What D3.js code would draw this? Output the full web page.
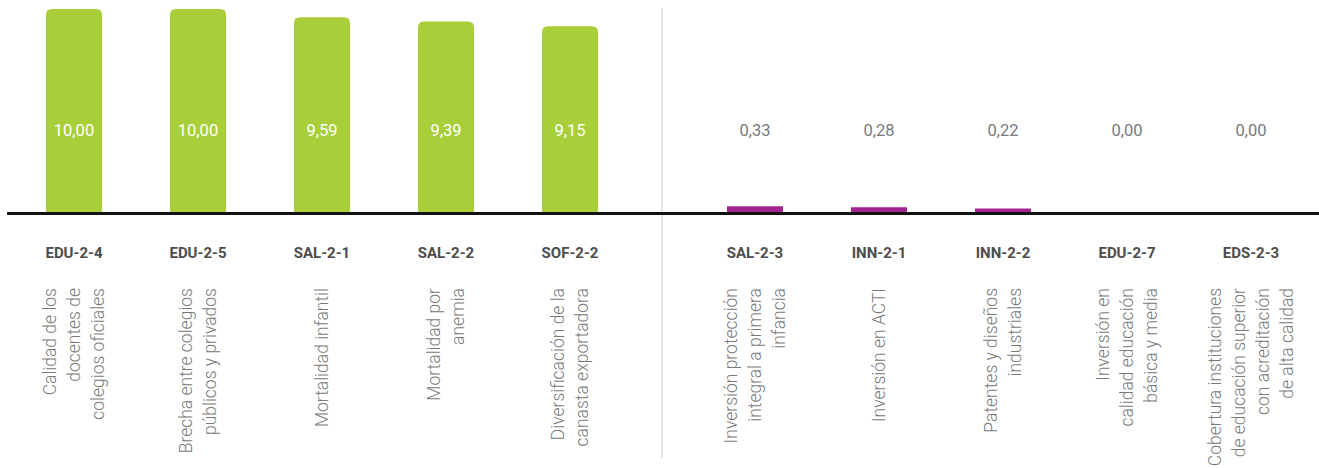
<!DOCTYPE html>
<html><head><meta charset="utf-8">
<script src="https://cdn.jsdelivr.net/npm/d3@7"></script>
<style>html,body{margin:0;padding:0;background:#fff;}svg{display:block;}</style>
</head><body>
<svg id="chart" width="1319" height="468"></svg>
<script>
const leftCodes = ["EDU-2-4","EDU-2-5","SAL-2-1","SAL-2-2","SOF-2-2"];
const leftValues = [10.00,10.00,9.59,9.39,9.15];
const leftDesc = [
  ["Calidad de los","docentes de","colegios oficiales"],
  ["Brecha entre colegios","públicos y privados"],
  ["Mortalidad infantil"],
  ["Mortalidad por","anemia"],
  ["Diversificación de la","canasta exportadora"]
];
const rightCodes = ["SAL-2-3","INN-2-1","INN-2-2","EDU-2-7","EDS-2-3"];
const rightValues = [0.33,0.28,0.22,0.00,0.00];
const rightDesc = [
  ["Inversión protección","integral a primera","infancia"],
  ["Inversión en ACTI"],
  ["Patentes y diseños","industriales"],
  ["Inversión en","calidad educación","básica y media"],
  ["Cobertura instituciones","de educación superior","con acreditación","de alta calidad"]
];

const svg = d3.select("#chart");
const baseY = 213;
const y = d3.scaleLinear().domain([0,10]).range([baseY, 9]);
const xL = d3.scaleBand().domain(leftCodes).range([12,632]).paddingInner(0.548).paddingOuter(0.274);
const xR = d3.scaleBand().domain(rightCodes).range([693,1313]).paddingInner(0.548).paddingOuter(0.274);

function barPath(x0, w, yTop, yBot, r){
  const h = yBot - yTop;
  if (h <= 0) return "";
  r = Math.min(r, h, w/2);
  return `M${x0},${yBot}V${yTop+r}Q${x0},${yTop} ${x0+r},${yTop}H${x0+w-r}Q${x0+w},${yTop} ${x0+w},${yTop+r}V${yBot}Z`;
}

// divider
svg.append("line").attr("x1",662).attr("x2",662).attr("y1",8).attr("y2",458)
  .attr("stroke","#e6e6e6").attr("stroke-width",2);

function group(codes, values, desc, x, color, labelColor, radius){
  const data = codes.map((c,i)=>({code:c, v:values[i], desc:desc[i]}));
  const g = svg.append("g");
  g.selectAll("path.bar").data(data).join("path").attr("class","bar")
    .attr("d", d => barPath(x(d.code), x.bandwidth(), y(d.v), baseY, radius))
    .attr("fill", color);
  g.selectAll("text.val").data(data).join("text").attr("class","val")
    .attr("x", d => x(d.code) + x.bandwidth()/2).attr("y", 136)
    .attr("text-anchor","middle").attr("font-family","Roboto, 'DejaVu Sans', sans-serif")
    .attr("font-size",16.5).attr("fill", labelColor).text(d => d3.format(".2f")(d.v).replace(".", ","));
  g.selectAll("text.code").data(data).join("text").attr("class","code")
    .attr("x", d => x(d.code) + x.bandwidth()/2).attr("y", 257.5)
    .attr("text-anchor","middle").attr("font-family","Roboto, sans-serif")
    .attr("font-weight",700).attr("font-size",15).attr("fill","#4d4d4d").text(d => d.code);
  data.forEach(d => {
    const cx = x(d.code) + x.bandwidth()/2;
    const n = d.desc.length;
    d.desc.forEach((line,i) => {
      const lx = cx + (i - (n-1)/2) * 24;
      g.append("text").attr("transform", `translate(${lx},288) rotate(-90)`)
        .attr("text-anchor","end").attr("dominant-baseline","central")
        .attr("font-family","Roboto, sans-serif").attr("font-weight",300)
        .attr("font-size",17.5).attr("fill","#7a7a7a").text(line);
    });
  });
}
group(leftCodes, leftValues, leftDesc, xL, "#a8cf3a", "#ffffff", 6);
group(rightCodes, rightValues, rightDesc, xR, "#a3238f", "#7a7a7a", 0);

// baseline
svg.append("line").attr("x1",7).attr("x2",1319).attr("y1",baseY+0.5).attr("y2",baseY+0.5)
  .attr("stroke","#111").attr("stroke-width",3);
</script>
</body></html>
